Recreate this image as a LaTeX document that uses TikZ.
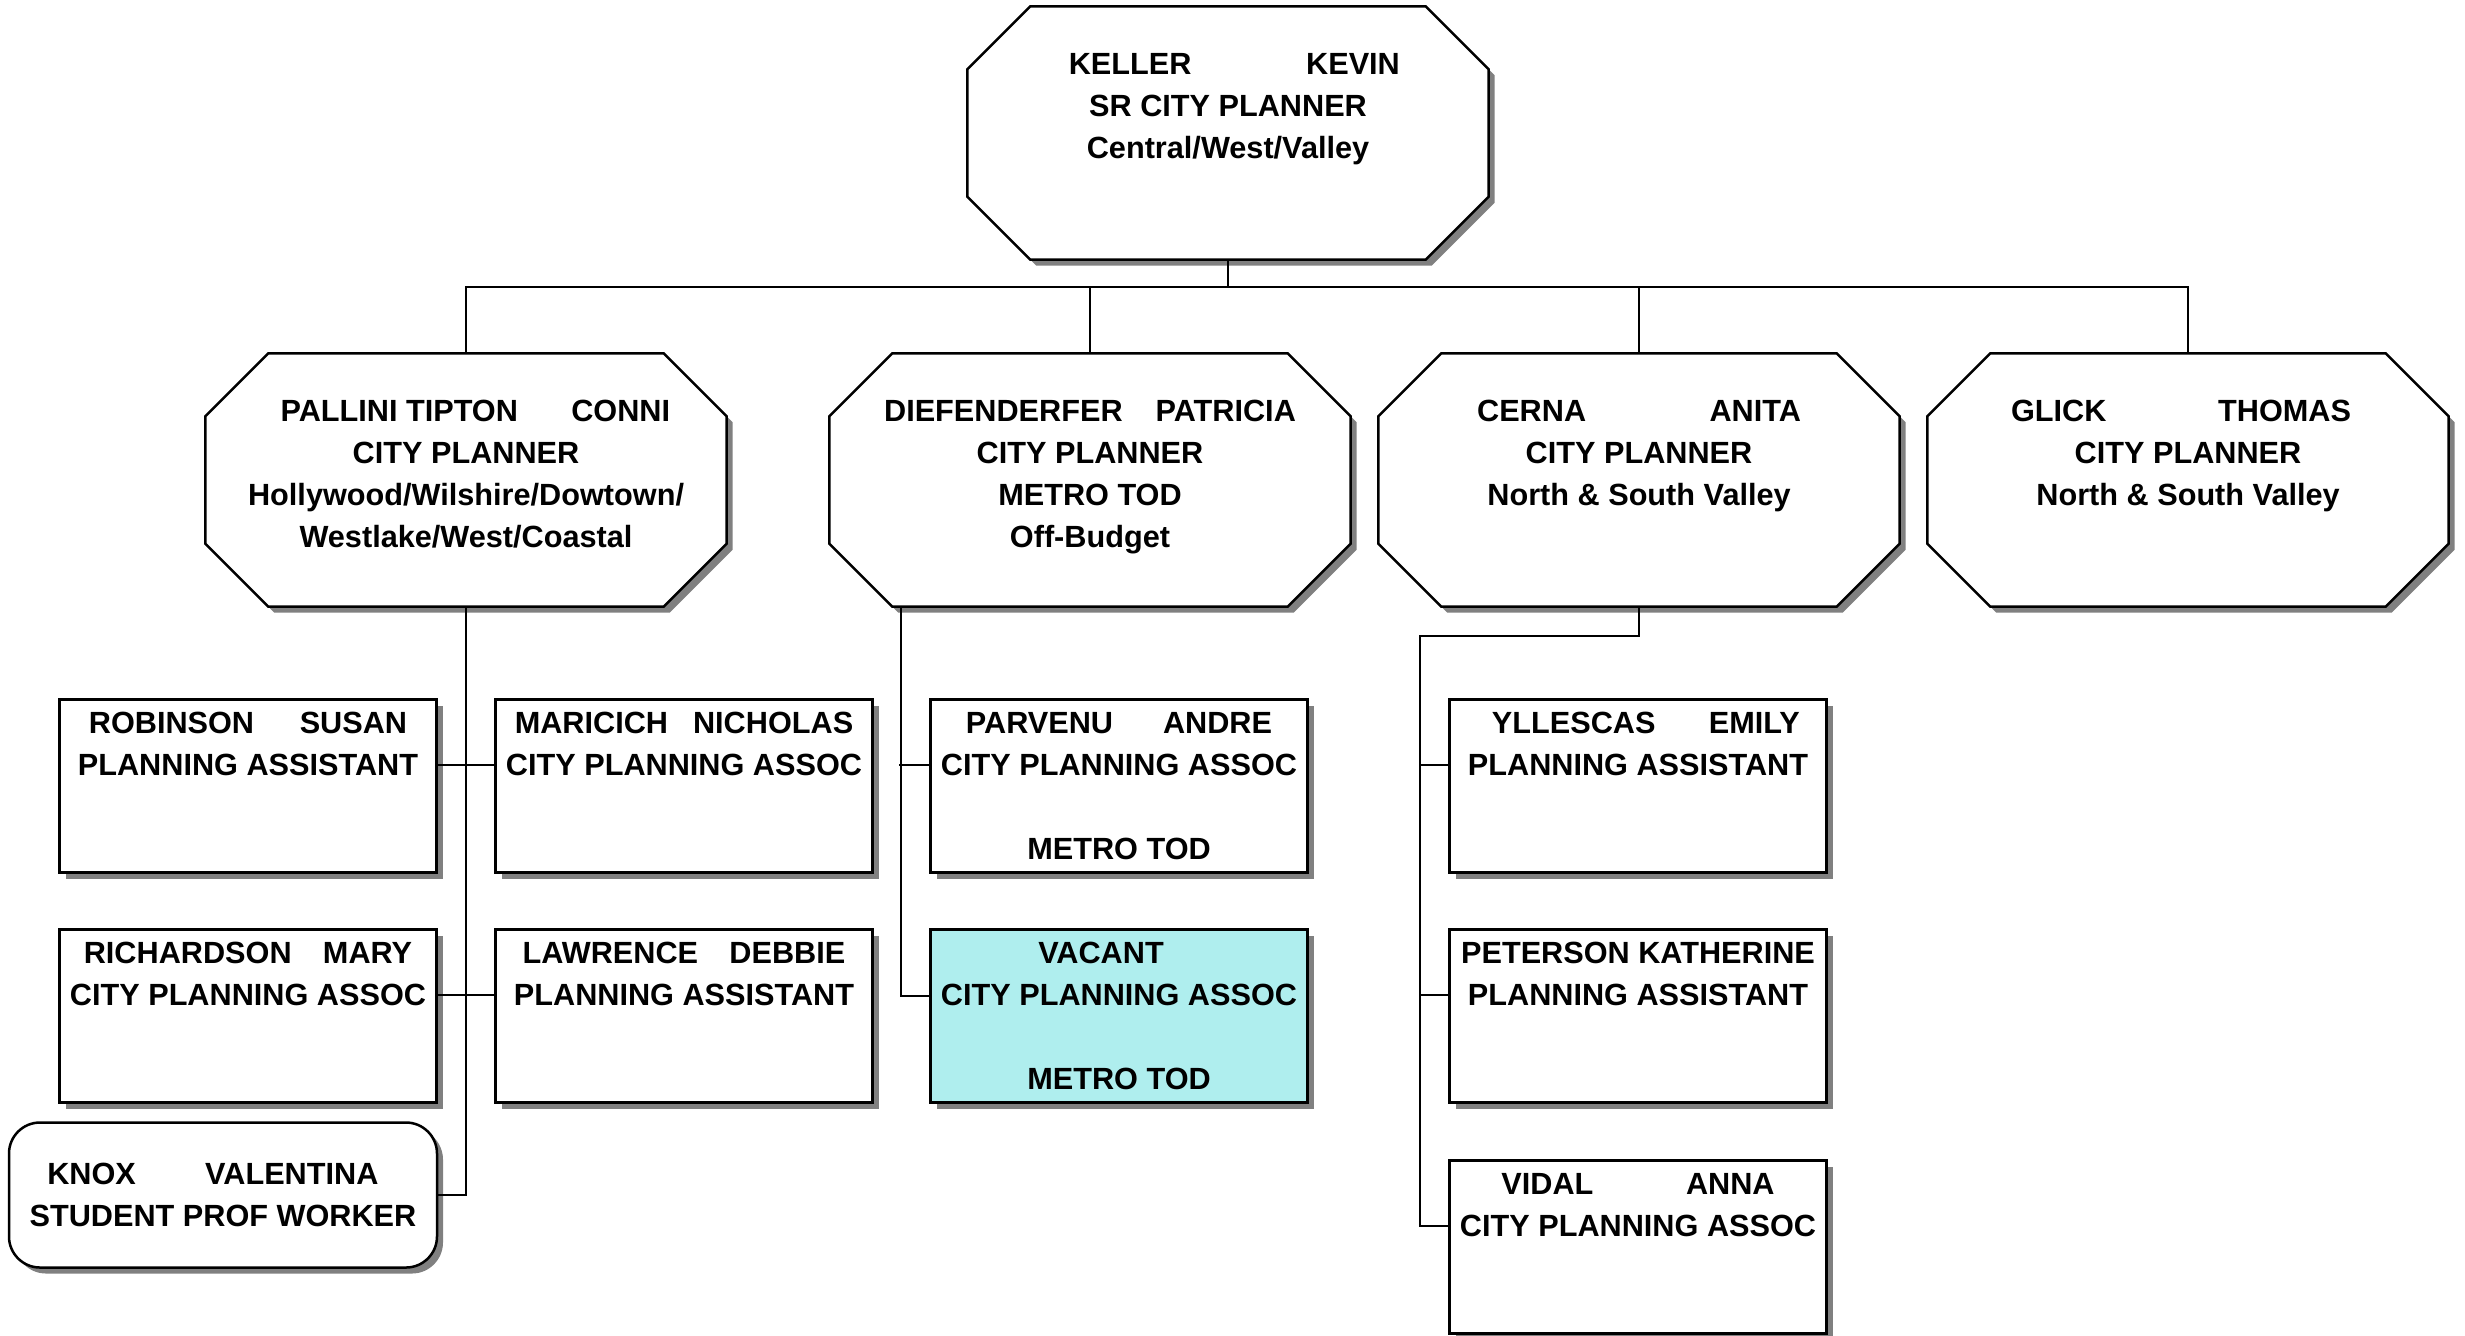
\documentclass[tikz,border=0pt]{standalone}
\usepackage{fontspec}
\setmainfont{Liberation Sans}
\usetikzlibrary{shadows, backgrounds}
\definecolor{shadowgray}{RGB}{128,128,128}
\definecolor{vacantcyan}{RGB}{175,238,238}

\begin{document}
\begin{tikzpicture}[
    x=0.3pt, y=-0.3pt,
    chart font/.style={font=\fontsize{9.2pt}{12.6pt}\selectfont\bfseries},
    grey shadow/.style={drop shadow={shadow xshift=1.8pt, shadow yshift=-1.8pt, fill=shadowgray, opacity=1}},
    octa/.style={chart font, align=center, minimum width=156pt, minimum height=75.6pt, inner sep=0pt},
    octa line/.style={draw, line width=0.75pt, fill=white, grey shadow},
    box/.style={chart font, draw, line width=0.75pt, fill=white, grey shadow, align=center, minimum width=113.1pt, minimum height=51.9pt, inner sep=0pt},
    student box/.style={box, rounded corners=9.3pt, minimum width=128.4pt, minimum height=43.5pt},
    link/.style={line width=0.6pt}
]
    \useasboundingbox (0,0) rectangle (2465,1335);

    % Senior planner
    \node[octa] (keller) at (1228,133) {\hspace*{3.8pt}KELLER\hspace{34.4pt}KEVIN\\SR CITY PLANNER\\Central/West/Valley\\\strut};

    % City planners
    \node[octa] (pallini) at (466,480) {\hspace*{5.6pt}PALLINI TIPTON\hspace{16pt}CONNI\\CITY PLANNER\\Hollywood/Wilshire/Dowtown/\\Westlake/West/Coastal\strut};
    \node[octa] (diefen) at (1090,480) {DIEFENDERFER\hspace{9.9pt}PATRICIA\\CITY PLANNER\\METRO TOD\\Off-Budget\strut};
    \node[octa] (cerna) at (1639,480) {CERNA\hspace{37pt}ANITA\\CITY PLANNER\\North \& South Valley\\\strut};
    \node[octa] (glick) at (2188,480) {GLICK\hspace{33.5pt}THOMAS\hspace*{4.2pt}\\CITY PLANNER\\North \& South Valley\\\strut};

    % Octagon outlines behind the text
    \begin{scope}[on background layer]
        \foreach \n in {keller,pallini,diefen,cerna,glick}
            \draw[octa line] ([xshift=18.9pt]\n.north west) -- ([xshift=-18.9pt]\n.north east)
                -- ([yshift=-18.9pt]\n.north east) -- ([yshift=18.9pt]\n.south east)
                -- ([xshift=-18.9pt]\n.south east) -- ([xshift=18.9pt]\n.south west)
                -- ([yshift=18.9pt]\n.south west) -- ([yshift=-18.9pt]\n.north west) -- cycle;
    \end{scope}

    % Pallini Tipton team
    \node[box] (robinson) at (248,786) {ROBINSON\hspace{13.7pt}SUSAN\\PLANNING ASSISTANT\\\mbox{}\\\mbox{}};
    \node[box] (maricich) at (684,786) {MARICICH\hspace{7.5pt}NICHOLAS\\CITY PLANNING ASSOC\\\mbox{}\\\mbox{}};
    \node[box] (richardson) at (248,1016) {RICHARDSON\hspace{9.4pt}MARY\\CITY PLANNING ASSOC\\\mbox{}\\\mbox{}};
    \node[box] (lawrence) at (684,1016) {LAWRENCE\hspace{9.4pt}DEBBIE\\PLANNING ASSISTANT\\\mbox{}\\\mbox{}};
    \node[student box] (knox) at (223,1195) {KNOX\hspace{20.8pt}VALENTINA\hspace*{6.1pt}\\STUDENT PROF WORKER};

    % Diefenderfer team
    \node[box] (parvenu) at (1119,786) {PARVENU\hspace{15pt}ANDRE\\CITY PLANNING ASSOC\\\mbox{}\\METRO TOD};
    \node[box, fill=vacantcyan] (vacant) at (1119,1016) {VACANT\hspace*{10.8pt}\\CITY PLANNING ASSOC\\\mbox{}\\METRO TOD};

    % Cerna team
    \node[box] (yllescas) at (1638,786) {\hspace*{4.7pt}YLLESCAS\hspace{16pt}EMILY\\PLANNING ASSISTANT\\\mbox{}\\\mbox{}};
    \node[box] (peterson) at (1638,1016) {PETERSON KATHERINE\\PLANNING ASSISTANT\\\mbox{}\\\mbox{}};
    \node[box] (vidal) at (1638,1247) {VIDAL\hspace{27.8pt}ANNA\\CITY PLANNING ASSOC\\\mbox{}\\\mbox{}};

    % Top level bus
    \foreach \n in {pallini,diefen,cerna,glick}
        \draw[link] (keller.south) -- ++(0,27) -| (\n.north);

    % Pallini Tipton links
    \draw[link] (pallini.south) |- (knox.east);
    \draw[link] ([shift={(0,67)}]robinson.north east) -- ([shift={(0,67)}]maricich.north west);
    \draw[link] ([shift={(0,67)}]richardson.north east) -- ([shift={(0,67)}]lawrence.north west);

    % Diefenderfer links
    \draw[link] ([xshift=-56.7pt]diefen.south) |- ([shift={(0,68)}]vacant.north west);
    \draw[link] ([shift={(-30,67)}]parvenu.north west) -- ([shift={(0,67)}]parvenu.north west);

    % Cerna links
    \draw[link] (cerna.south) -- ++(0,29) -| ([shift={(-28,67)}]vidal.north west) -- ([shift={(0,67)}]vidal.north west);
    \draw[link] ([shift={(-28,67)}]yllescas.north west) -- ([shift={(0,67)}]yllescas.north west);
    \draw[link] ([shift={(-28,67)}]peterson.north west) -- ([shift={(0,67)}]peterson.north west);
\end{tikzpicture}
\end{document}
